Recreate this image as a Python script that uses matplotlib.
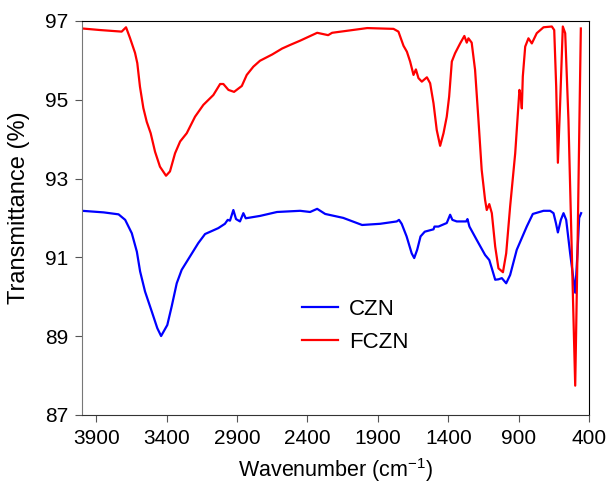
import numpy as np
import matplotlib.pyplot as plt

plt.rcParams['font.family'] = ['Liberation Sans', 'DejaVu Sans']

# FCZN spectrum
fczn_wn = [4000, 3872, 3719, 3688, 3660, 3624, 3608, 3589, 3565, 3541, 3513, 3482,
           3447, 3404, 3376, 3340, 3304, 3257, 3198, 3139, 3068, 3020, 2997, 2961,
           2921, 2866, 2831, 2784, 2737, 2650, 2580, 2524, 2452, 2331, 2253, 2225,
           1976, 1884, 1789, 1754, 1737, 1718, 1694, 1671, 1647, 1630, 1612, 1588,
           1552, 1529, 1505, 1482, 1458, 1434, 1411, 1394, 1375, 1352, 1316, 1286,
           1269, 1257, 1234, 1210, 1186, 1163, 1139, 1127, 1109, 1091, 1067, 1044,
           1012, 989, 961, 925, 895, 885, 878, 871, 854, 831, 807, 772, 724, 665,
           648, 634, 622, 606, 587, 570, 547, 523, 499, 483, 469, 459]
fczn_t = [96.81, 96.77, 96.73, 96.84, 96.57, 96.19, 95.93, 95.33, 94.79, 94.44, 94.15, 93.68,
          93.3, 93.07, 93.18, 93.64, 93.94, 94.15, 94.57, 94.87, 95.12, 95.4, 95.4, 95.25,
          95.2, 95.35, 95.63, 95.84, 95.99, 96.15, 96.3, 96.39, 96.5, 96.7, 96.64, 96.7,
          96.82, 96.81, 96.8, 96.73, 96.56, 96.37, 96.22, 95.97, 95.63, 95.77, 95.55, 95.46,
          95.57, 95.42, 94.91, 94.23, 93.83, 94.15, 94.57, 95.08, 95.97, 96.18, 96.43, 96.62,
          96.45, 96.56, 96.45, 95.76, 94.49, 93.22, 92.46, 92.2, 92.35, 92.12, 91.27, 90.72,
          90.62, 91.1, 92.29, 93.64, 95.25, 95.08, 94.78, 95.59, 96.35, 96.56, 96.43, 96.69, 96.84, 96.86,
          96.77, 95.33, 93.4, 94.91, 96.86, 96.69, 94.49, 91.1, 87.74, 91.1, 94.49, 96.81]

# CZN spectrum
czn_wn = [4000, 3847, 3741, 3694, 3647, 3611, 3588, 3553, 3505, 3466, 3439, 3395,
          3364, 3328, 3293, 3234, 3175, 3127, 3033, 2986, 2966, 2950, 2926, 2907,
          2879, 2855, 2838, 2737, 2616, 2452, 2381, 2331, 2274, 2146, 2012, 1884,
          1766, 1750, 1731, 1696, 1660, 1642, 1621, 1597, 1567, 1505, 1498, 1470,
          1411, 1387, 1371, 1340, 1273, 1264, 1250, 1198, 1139, 1109, 1091, 1067,
          1044, 1020, 989, 961, 914, 843, 800, 724, 677, 653, 636, 622, 601, 582,
          563, 535, 499, 483, 471, 457]
czn_t = [92.18, 92.14, 92.09, 91.95, 91.61, 91.14, 90.64, 90.13, 89.62, 89.2, 89.0, 89.28,
         89.75, 90.34, 90.68, 91.02, 91.36, 91.59, 91.74, 91.85, 91.95, 91.93, 92.2, 91.97,
         91.91, 92.12, 91.99, 92.05, 92.15, 92.18, 92.15, 92.23, 92.1, 92.0, 91.82, 91.85,
         91.91, 91.95, 91.85, 91.53, 91.1, 90.98, 91.19, 91.53, 91.65, 91.71, 91.78, 91.78,
         91.87, 92.08, 91.95, 91.91, 91.91, 91.97, 91.78, 91.44, 91.06, 90.93, 90.72, 90.43,
         90.44, 90.47, 90.34, 90.55, 91.19, 91.78, 92.1, 92.18, 92.18, 92.12, 91.87, 91.63, 91.95, 92.12,
         91.95, 91.1, 90.1, 91.1, 92.0, 92.12]

xticks = [3900, 3400, 2900, 2400, 1900, 1400, 900, 400]
yticks = [87, 89, 91, 93, 95, 97]

fig = plt.figure(figsize=(6.08, 4.88), dpi=100)
ax = fig.add_axes([0.135, 0.150, 0.834, 0.807])

ax.plot(czn_wn, czn_t, color='#0000FF', lw=1.6, label='CZN')
ax.plot(fczn_wn, fczn_t, color='#FF0000', lw=1.6, label='FCZN')

ax.set_xlim(4000, 400)
ax.set_ylim(87, 97)
ax.set_xticks(xticks)
ax.set_yticks(yticks)
ax.tick_params(labelsize=15, direction='out', length=5, color='#555555', pad=5)
ax.spines['left'].set_color('#777777')
ax.spines['bottom'].set_color('#333333')

ax.set_xlabel('Wavenumber (cm$^{\\mathregular{-1}}$)', fontsize=15.5, labelpad=6)
ax.set_ylabel('Transmittance (%)', fontsize=17)
ax.yaxis.set_label_coords(-0.102, 0.525)

ax.legend(frameon=False, fontsize=16, loc='upper left', bbox_to_anchor=(0.434, 0.295),
          borderaxespad=0, borderpad=0, handlelength=1.6, handletextpad=0.5,
          labelspacing=0.55)

plt.savefig('out.png', dpi=100)
